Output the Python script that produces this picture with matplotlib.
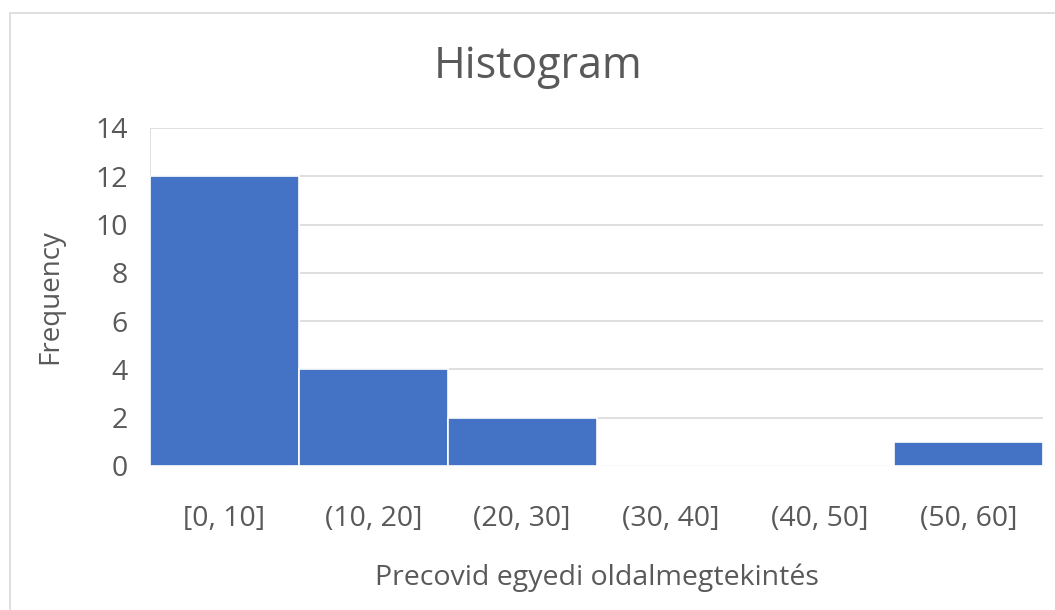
import numpy as np
import matplotlib.pyplot as plt
from matplotlib.patches import Rectangle

bin_labels = ['[0, 10]', '(10, 20]', '(20, 30]', '(30, 40]', '(40, 50]', '(50, 60]']
frequency = [12, 4, 2, 0, 0, 1]
bin_width = 10

plt.rcParams['font.family'] = ['Open Sans', 'DejaVu Sans']
grey = '#595959'
W, H = 1055, 610

fig = plt.figure(figsize=(W / 100, H / 100), dpi=100)
ax = fig.add_axes([150 / W, 1 - 466 / H, (1043 - 150) / W, (466 - 128) / H])

# outer chart border, like the Excel chart frame
fig.patches.append(Rectangle((10 / W, -0.05), 1.1, 1 - 13 / H + 0.05, transform=fig.transFigure,
                             fill=False, edgecolor='#D9D9D9', linewidth=1.2))

left_edges = np.arange(len(frequency)) * bin_width
ax.bar(left_edges, frequency, width=bin_width, align='edge', color='#4472C4',
       edgecolor='white', linewidth=1.2, zorder=3)

ax.set_xlim(0, len(frequency) * bin_width)
ax.set_ylim(0, 14)
ax.set_yticks(range(0, 15, 2))
ax.set_xticks(left_edges + bin_width / 2)
ax.set_xticklabels(bin_labels)
ax.grid(axis='y', color='#D9D9D9', linewidth=1.2, zorder=0)
ax.axvline(0, color='#D9D9D9', linewidth=1.2, zorder=0)
for s in ax.spines.values():
    s.set_visible(False)
ax.tick_params(length=0, labelsize=20.5, colors=grey)
ax.tick_params(axis='x', pad=28)
ax.tick_params(axis='y', pad=16)

fig.text(538 / W, 1 - 67 / H, 'Histogram', fontsize=31, color=grey, ha='center', va='center')
fig.text(50 / W, 1 - 297 / H, 'Frequency', fontsize=20, color=grey, ha='center', va='center',
         rotation=90)
fig.text(597 / W, 1 - 578 / H, 'Precovid egyedi oldalmegtekintés', fontsize=20.5, color=grey,
         ha='center', va='center')

fig.savefig('out.png', dpi=100)
